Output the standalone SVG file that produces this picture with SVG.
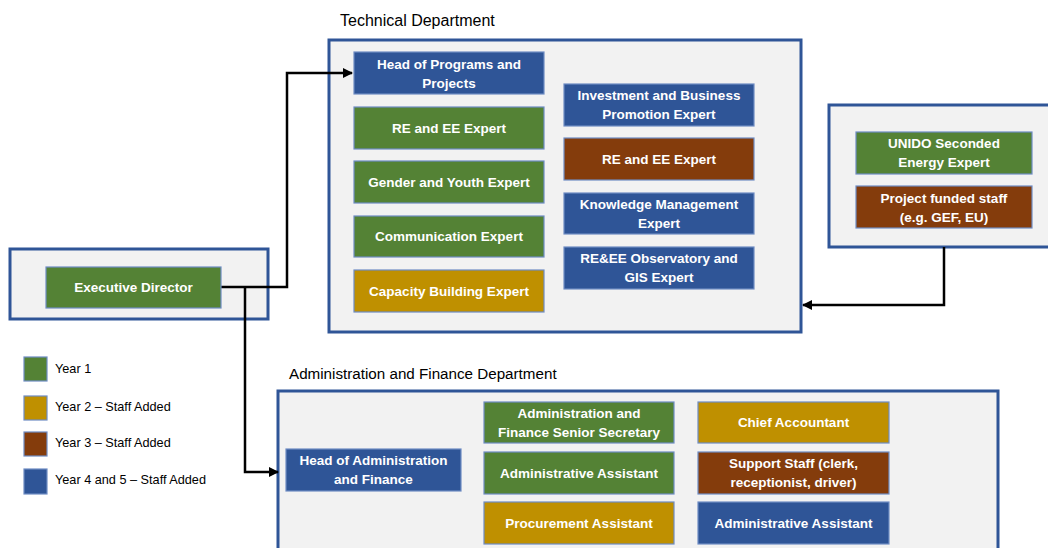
<svg xmlns="http://www.w3.org/2000/svg" width="1048" height="548" viewBox="0 0 1048 548">
  <defs>
    <marker id="arrow" viewBox="0 0 10 10" refX="9" refY="5" markerWidth="4" markerHeight="4" orient="auto" markerUnits="strokeWidth">
      <path d="M0,0 L10,5 L0,10 z" fill="#000"/>
    </marker>
    <style>
      .dept { fill: #F2F2F2; stroke: #2F5597; stroke-width: 3; }
      .node { stroke: #6E8CC4; stroke-width: 1.2; }
      .y1 { fill: #548235; }
      .y2 { fill: #BF9000; }
      .y3 { fill: #843C0C; }
      .y4 { fill: #2F5597; }
      .label { font-family: "Liberation Sans", Arial, sans-serif; font-weight: bold; font-size: 13.5px; fill: #FFFFFF; text-anchor: middle; dominant-baseline: central; }
      .title { font-family: "Liberation Sans", Arial, sans-serif; font-size: 16px; fill: #000; dominant-baseline: central; }
      .legend { font-family: "Liberation Sans", Arial, sans-serif; font-size: 12.7px; fill: #000; dominant-baseline: central; }
      .key { stroke: #6E8CC4; stroke-width: 1.2; }
      .link { fill: none; stroke: #000; stroke-width: 2.5; }
    </style>
  </defs>

  <rect width="1048" height="548" fill="#FFFFFF"/>

  <!-- Department containers -->
  <g id="executive-office">
    <rect class="dept" x="10" y="249" width="258" height="70"/>
  </g>
  <g id="technical-department">
    <text class="title" x="340" y="20">Technical Department</text>
    <rect class="dept" x="329" y="40" width="472" height="292"/>
  </g>
  <g id="external-staff">
    <rect class="dept" x="829" y="105" width="230" height="142"/>
  </g>
  <g id="admin-finance-department">
    <text class="title" x="289" y="373" style="font-size:15.2px">Administration and Finance Department</text>
    <rect class="dept" x="278" y="391" width="720" height="170"/>
  </g>

  <!-- Connectors -->
  <g id="connectors">
    <path class="link" d="M221,287 H287 V73 H352" marker-end="url(#arrow)"/>
    <path class="link" d="M245,287 V472 H278" marker-end="url(#arrow)"/>
    <path class="link" d="M944,247 V305 H803" marker-end="url(#arrow)"/>
  </g>

  <!-- Executive -->
  <g id="executive-director">
    <rect class="node y1" x="46" y="267" width="175" height="41"/>
    <text class="label" x="133.5" y="287.5">Executive Director</text>
  </g>

  <!-- Technical department, left column -->
  <g id="head-programs">
    <rect class="node y4" x="354" y="52" width="190" height="42"/>
    <text class="label" x="449" y="64">Head of Programs and</text>
    <text class="label" x="449" y="83">Projects</text>
  </g>
  <g id="re-ee-expert-1">
    <rect class="node y1" x="354" y="107" width="190" height="42"/>
    <text class="label" x="449" y="128">RE and EE Expert</text>
  </g>
  <g id="gender-youth-expert">
    <rect class="node y1" x="354" y="161" width="190" height="42"/>
    <text class="label" x="449" y="182">Gender and Youth Expert</text>
  </g>
  <g id="communication-expert">
    <rect class="node y1" x="354" y="216" width="190" height="41"/>
    <text class="label" x="449" y="236.5">Communication Expert</text>
  </g>
  <g id="capacity-building-expert">
    <rect class="node y2" x="354" y="270" width="190" height="42"/>
    <text class="label" x="449" y="291">Capacity Building Expert</text>
  </g>

  <!-- Technical department, right column -->
  <g id="investment-promotion-expert">
    <rect class="node y4" x="564" y="84" width="190" height="42"/>
    <text class="label" x="659" y="95.5">Investment and Business</text>
    <text class="label" x="659" y="114.5">Promotion Expert</text>
  </g>
  <g id="re-ee-expert-2">
    <rect class="node y3" x="564" y="138" width="190" height="42"/>
    <text class="label" x="659" y="159">RE and EE Expert</text>
  </g>
  <g id="knowledge-management-expert">
    <rect class="node y4" x="564" y="193" width="190" height="41"/>
    <text class="label" x="659" y="204">Knowledge Management</text>
    <text class="label" x="659" y="223">Expert</text>
  </g>
  <g id="observatory-gis-expert">
    <rect class="node y4" x="564" y="247" width="190" height="42"/>
    <text class="label" x="659" y="258.5">RE&amp;EE Observatory and</text>
    <text class="label" x="659" y="277.5">GIS Expert</text>
  </g>

  <!-- External staff -->
  <g id="unido-energy-expert">
    <rect class="node y1" x="856" y="132" width="176" height="42"/>
    <text class="label" x="944" y="143.5">UNIDO Seconded</text>
    <text class="label" x="944" y="162.5">Energy Expert</text>
  </g>
  <g id="project-funded-staff">
    <rect class="node y3" x="856" y="186" width="176" height="42"/>
    <text class="label" x="944" y="198">Project funded staff</text>
    <text class="label" x="944" y="217">(e.g. GEF, EU)</text>
  </g>

  <!-- Administration and finance department -->
  <g id="head-admin-finance">
    <rect class="node y4" x="286" y="449" width="175" height="42"/>
    <text class="label" x="373.5" y="460.5">Head of Administration</text>
    <text class="label" x="373.5" y="479.5">and Finance</text>
  </g>
  <g id="senior-secretary">
    <rect class="node y1" x="484" y="402" width="190" height="41"/>
    <text class="label" x="579" y="413">Administration and</text>
    <text class="label" x="579" y="432">Finance Senior Secretary</text>
  </g>
  <g id="admin-assistant-1">
    <rect class="node y1" x="484" y="452" width="190" height="42"/>
    <text class="label" x="579" y="473">Administrative Assistant</text>
  </g>
  <g id="procurement-assistant">
    <rect class="node y2" x="484" y="502" width="190" height="42"/>
    <text class="label" x="579" y="523">Procurement Assistant</text>
  </g>
  <g id="chief-accountant">
    <rect class="node y2" x="698" y="402" width="191" height="41"/>
    <text class="label" x="793.5" y="422.5">Chief Accountant</text>
  </g>
  <g id="support-staff">
    <rect class="node y3" x="698" y="452" width="191" height="42"/>
    <text class="label" x="793.5" y="463.5">Support Staff (clerk,</text>
    <text class="label" x="793.5" y="482.5">receptionist, driver)</text>
  </g>
  <g id="admin-assistant-2">
    <rect class="node y4" x="698" y="502" width="191" height="42"/>
    <text class="label" x="793.5" y="523">Administrative Assistant</text>
  </g>

  <!-- Legend -->
  <g id="legend">
    <rect class="key y1" x="24" y="357" width="23" height="24"/>
    <text class="legend" x="55" y="369">Year 1</text>
    <rect class="key y2" x="24" y="396" width="23" height="24"/>
    <text class="legend" x="55" y="407">Year 2 – Staff Added</text>
    <rect class="key y3" x="24" y="432" width="23" height="24"/>
    <text class="legend" x="55" y="442.5">Year 3 – Staff Added</text>
    <rect class="key y4" x="24" y="469" width="23" height="25"/>
    <text class="legend" x="55" y="480">Year 4 and 5 – Staff Added</text>
  </g>
</svg>
